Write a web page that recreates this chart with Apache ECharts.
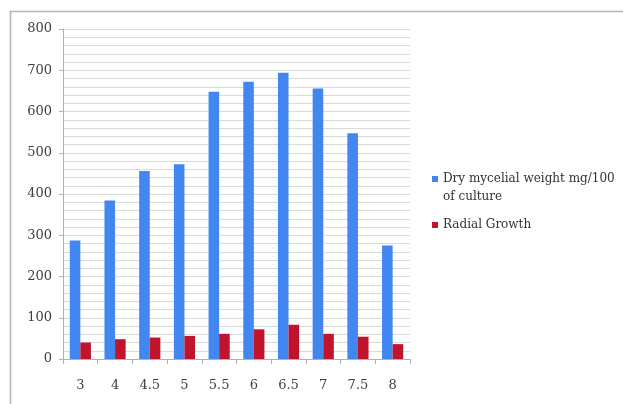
<!DOCTYPE html>
<html>
<head>
<meta charset="utf-8">
<script src="https://cdn.jsdelivr.net/npm/echarts@6/dist/echarts.min.js"></script>
<style>
  html, body { margin: 0; padding: 0; background: #fff; }
  #chart { width: 623px; height: 404px; }
</style>
</head>
<body>
<div id="chart"></div>
<script>
// pH values on the category axis
const categories = ['3', '4', '4.5', '5', '5.5', '6', '6.5', '7', '7.5', '8'];
// Dry mycelial weight (mg/100 ml of culture)
const dryWeight = [287, 384, 456, 472, 648, 672, 694, 656, 547, 275];
// Radial growth
const radialGrowth = [40, 48, 52, 56, 61, 72, 83, 61, 54, 36];
// Value axis ticks
const yTicks = [0, 100, 200, 300, 400, 500, 600, 700, 800];

// The leading blank line keeps the swatch level with the first line of the wrapped name
const seriesNames = ['\nDry mycelial weight mg/100\nof culture', 'Radial Growth'];
const font = 'DejaVu Serif';
const textColor = '#404040';

const chart = echarts.init(document.getElementById('chart'), null, { renderer: 'canvas' });

chart.setOption({
  animation: false,
  backgroundColor: '#ffffff',
  graphic: [{
    type: 'rect',
    shape: { x: 10.5, y: 11.5, width: 700, height: 500 },
    style: { fill: 'none', stroke: '#b2b6b6', lineWidth: 1.6 },
    silent: true
  }],
  grid: { left: 63, right: 213, top: 29, bottom: 45, containLabel: false },
  legend: {
    orient: 'vertical',
    left: 427,
    top: 147,
    itemWidth: 6,
    itemHeight: 6,
    itemGap: 10,
    icon: 'rect',
    textStyle: { fontFamily: font, fontSize: 12, color: '#333', lineHeight: 18 },
    data: seriesNames
  },
  xAxis: {
    type: 'category',
    data: categories,
    axisLine: { lineStyle: { color: '#b0b0b0', width: 1 } },
    axisTick: { show: true, length: 5, alignWithLabel: false, lineStyle: { color: '#b0b0b0' } },
    axisLabel: { fontFamily: font, fontSize: 13, color: textColor, margin: 20 }
  },
  yAxis: {
    type: 'value',
    min: yTicks[0],
    max: yTicks[yTicks.length - 1],
    interval: 100,
    axisLine: { show: true, lineStyle: { color: '#b0b0b0', width: 1 } },
    axisTick: { show: true, length: 4, lineStyle: { color: '#b0b0b0' } },
    axisLabel: { fontFamily: font, fontSize: 13, color: textColor, margin: 11 },
    splitLine: { show: true, lineStyle: { color: '#d6dbdb', width: 1 } },
    minorTick: { show: false, splitNumber: 5 },
    minorSplitLine: { show: true, lineStyle: { color: '#d6dbdb', width: 1 } }
  },
  series: [
    {
      name: seriesNames[0],
      type: 'bar',
      data: dryWeight,
      barGap: '0%',
      barCategoryGap: '39%',
      itemStyle: { color: '#4287f0' }
    },
    {
      name: seriesNames[1],
      type: 'bar',
      data: radialGrowth,
      barGap: '0%',
      barCategoryGap: '39%',
      itemStyle: { color: '#c0142c' }
    }
  ]
});
</script>
</body>
</html>
